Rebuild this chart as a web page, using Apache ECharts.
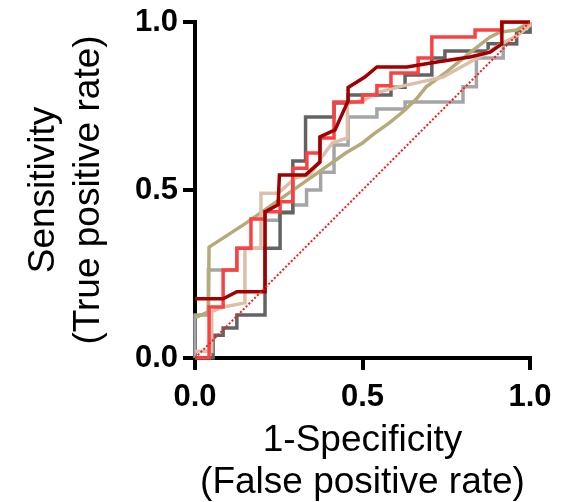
<!DOCTYPE html>
<html>
<head>
<meta charset="utf-8">
<script src="https://cdn.jsdelivr.net/npm/echarts@6/dist/echarts.min.js"></script>
<style>
  html, body { margin: 0; padding: 0; background: #fff; }
  #chart { width: 562px; height: 502px; }
</style>
</head>
<body>
<div id="chart"></div>
<script>
// Tick positions and their labels
const tickValues = [0, 0.5, 1];
const tickLabels = ['0.0', '0.5', '1.0'];

// ROC curves: [1-specificity, sensitivity] corner points
const rocLightGray = [[0,0],[0,0.128],[0.04,0.128],[0.04,0.262],[0.125,0.262],[0.125,0.327],[0.209,0.327],[0.209,0.41],[0.252,0.41],[0.252,0.435],[0.292,0.435],[0.292,0.455],[0.333,0.455],[0.333,0.5],[0.375,0.5],[0.375,0.553],[0.415,0.553],[0.415,0.634],[0.457,0.634],[0.457,0.717],[0.543,0.717],[0.543,0.741],[0.627,0.741],[0.627,0.762],[0.8,0.762],[0.8,0.807],[0.84,0.807],[0.84,0.893],[0.92,0.893],[0.92,0.935],[0.96,0.935],[0.96,0.97],[1,0.97],[1,1]];
const rocDarkGray = [[0,0],[0.054,0],[0.054,0.068],[0.084,0.068],[0.084,0.089],[0.125,0.089],[0.125,0.128],[0.209,0.128],[0.209,0.327],[0.254,0.327],[0.254,0.432],[0.292,0.432],[0.292,0.586],[0.33,0.586],[0.33,0.717],[0.415,0.717],[0.415,0.759],[0.457,0.759],[0.457,0.783],[0.585,0.783],[0.585,0.806],[0.627,0.806],[0.627,0.842],[0.707,0.842],[0.707,0.893],[0.746,0.893],[0.746,0.914],[0.875,0.914],[0.875,0.935],[0.96,0.935],[0.96,0.97],[1,0.97],[1,1]];
const rocKhaki = [[0,0.12],[0.04,0.137],[0.042,0.33],[0.15,0.4],[0.25,0.47],[0.35,0.54],[0.45,0.61],[0.5,0.64],[0.53,0.664],[0.58,0.7],[0.62,0.732],[0.66,0.77],[0.69,0.807],[0.75,0.851],[0.82,0.908],[0.88,0.955],[0.91,0.97],[0.96,0.976],[1,1]];
const rocTan = [[0,0.02],[0.05,0.02],[0.05,0.138],[0.084,0.152],[0.149,0.164],[0.149,0.327],[0.197,0.327],[0.197,0.49],[0.248,0.49],[0.3,0.536],[0.343,0.545],[0.38,0.6],[0.41,0.64],[0.455,0.655],[0.455,0.76],[0.5,0.765],[0.543,0.79],[0.621,0.81],[0.74,0.836],[0.82,0.88],[0.87,0.908],[0.92,0.938],[0.96,0.958],[1,0.99],[1,1]];
const rocRed = [[0,0],[0.042,0],[0.042,0.152],[0.084,0.152],[0.084,0.262],[0.125,0.262],[0.125,0.327],[0.167,0.327],[0.167,0.414],[0.209,0.414],[0.209,0.435],[0.254,0.435],[0.254,0.465],[0.292,0.465],[0.292,0.565],[0.334,0.565],[0.334,0.61],[0.373,0.61],[0.373,0.655],[0.415,0.655],[0.415,0.762],[0.5,0.762],[0.5,0.783],[0.543,0.783],[0.543,0.81],[0.585,0.81],[0.585,0.848],[0.666,0.848],[0.666,0.893],[0.707,0.893],[0.707,0.955],[0.836,0.955],[0.836,0.976],[0.916,0.976],[0.916,1],[1,1]];
const rocDarkRed = [[0,0.176],[0.084,0.176],[0.125,0.197],[0.209,0.197],[0.209,0.435],[0.248,0.456],[0.252,0.545],[0.33,0.545],[0.373,0.583],[0.373,0.658],[0.418,0.679],[0.457,0.765],[0.457,0.805],[0.507,0.836],[0.543,0.866],[0.633,0.866],[0.722,0.881],[0.821,0.896],[0.881,0.91],[0.916,0.935],[0.916,1],[1,1]];
// Chance line
const chanceLine = [[0,0],[1,1]];

const FONT = '"Liberation Sans", Arial, sans-serif';

const chart = echarts.init(document.getElementById('chart'), null, { renderer: 'canvas' });

function rocSeries(data, color, width) {
  return {
    type: 'line',
    data: data,
    showSymbol: false,
    symbol: 'none',
    lineStyle: { color: color, width: width, join: 'miter', cap: 'butt' },
    silent: true,
    animation: false
  };
}

function axisCommon() {
  return {
    type: 'value',
    min: 0,
    max: 1,
    interval: 0.5,
    splitLine: { show: false },
    axisLine: { show: true, onZero: false, lineStyle: { color: '#000', width: 4, cap: 'square' } },
    axisTick: { show: true, length: 12, lineStyle: { color: '#000', width: 4 } },
    axisLabel: {
      color: '#000',
      fontFamily: FONT,
      fontSize: 31,
      fontWeight: 'bold',
      formatter: function (v) {
        const i = tickValues.indexOf(v);
        return i >= 0 ? tickLabels[i] : '';
      }
    },
    nameLocation: 'middle',
    nameTextStyle: { color: '#000', fontFamily: FONT, fontSize: 37 }
  };
}

const xAxis = axisCommon();
xAxis.name = '1-Specificity\n(False positive rate)';
xAxis.nameGap = 62;
xAxis.nameTextStyle.lineHeight = 42;
xAxis.axisLabel.margin = 24;

const yAxis = axisCommon();
yAxis.name = 'Sensitivity\n(True positive rate)';
yAxis.nameGap = 84;
yAxis.nameRotate = 90;
yAxis.nameTextStyle.lineHeight = 45;
yAxis.axisLabel.margin = 17;

chart.setOption({
  animation: false,
  backgroundColor: '#fff',
  grid: {
    left: 195, right: 32, top: 22, bottom: 144,
    containLabel: false,
    outerBoundsMode: 'none'
  },
  xAxis: xAxis,
  yAxis: yAxis,
  series: [
    rocSeries(rocLightGray, '#a5a5a8', 3.5),
    rocSeries(rocDarkGray, '#636363', 3.5),
    rocSeries(rocKhaki, '#b4aa7a', 3.5),
    rocSeries(rocTan, '#dcbfa9', 3.5),
    rocSeries(rocRed, '#fa4242', 3.5),
    rocSeries(rocDarkRed, '#a00000', 3.5),
    {
      type: 'line',
      data: chanceLine,
      showSymbol: false,
      symbol: 'none',
      lineStyle: { color: '#ff1a1a', width: 2, type: [2, 2] },
      silent: true,
      animation: false
    }
  ]
});
</script>
</body>
</html>
